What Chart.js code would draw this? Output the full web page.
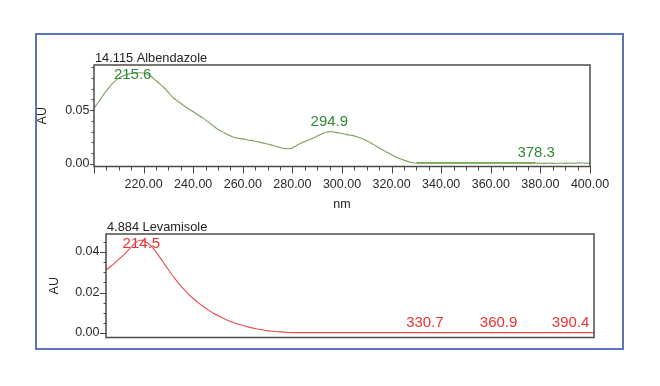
<!DOCTYPE html>
<html><head><meta charset="utf-8">
<script src="https://cdn.jsdelivr.net/npm/chart.js@4/dist/chart.umd.min.js"></script>
<style>
html,body{margin:0;padding:0;background:#fff;width:660px;height:386px;overflow:hidden;}
#frame{position:absolute;left:35px;top:33px;width:585px;height:313px;border:2px solid #5a74bd;}
#c1{position:absolute;left:0;top:0;}
#c2{position:absolute;left:0;top:215px;}
</style></head><body>
<div id="frame"></div>
<canvas id="c1" width="660" height="215"></canvas>
<canvas id="c2" width="660" height="171"></canvas>
<script>
// ---- Albendazole spectrum (nm, AU) ----
const albNm = [200,202,204,206,208,210,212,214,216,218,220,222,224,226,228,230,232,234,236,238,240,242,244,246,248,250,252,254,256,258,260,262,264,266,268,270,272,274,276,278,280,282,284,286,288,290,292,294,295,296,298,300,302,304,306,308,310,312,314,316,318,320,322,324,326,328,330,340,350,360,370,378,380,382,384,386,388,390,392,394,396,398,400];
const albAU = [0.052,0.058,0.065,0.071,0.076,0.080,0.082,0.0835,0.0845,0.0848,0.0845,0.083,0.0795,0.0755,0.0715,0.0665,0.0615,0.058,0.0545,0.0515,0.0485,0.0455,0.0425,0.039,0.0355,0.032,0.0295,0.027,0.025,0.0238,0.0232,0.0222,0.0215,0.0205,0.0195,0.0185,0.0172,0.0158,0.0145,0.014,0.0148,0.0175,0.0198,0.0215,0.0235,0.0258,0.028,0.0297,0.030,0.0298,0.029,0.0282,0.0272,0.0265,0.0252,0.0235,0.0215,0.019,0.0162,0.0135,0.011,0.0085,0.0062,0.0042,0.0025,0.0013,0.0008,0.0008,0.0008,0.0008,0.0008,0.0008,0.0005,0.0004,0.0006,0.0003,0.0007,0.0004,0.0008,0.0005,0.0009,0.0006,0.0004];
const albPeakNm = [215.6, 294.9, 378.3];
const albPeakLabels = ['215.6', '294.9', '378.3'];
const albXTickValues = [220,240,260,280,300,320,340,360,380,400];
const albYTickValues = [0, 0.05];

// ---- Levamisole spectrum (nm, AU) ----
const levNm = [200,202,204,206,208,210,212,214,215,216,218,220,222,224,226,228,230,232,234,236,238,240,242,244,246,248,250,253,256,259,262,265,268,271,275,280,300,330,360,390,400];
const levAU = [0.031,0.033,0.035,0.0372,0.0395,0.042,0.0445,0.0458,0.0458,0.0452,0.0435,0.0408,0.0375,0.034,0.0305,0.0272,0.0242,0.0215,0.019,0.0168,0.0148,0.013,0.0113,0.0098,0.0085,0.0073,0.0062,0.0048,0.0037,0.0028,0.002,0.0014,0.0009,0.0006,0.0003,0.0002,0.0002,0.0002,0.0002,0.0002,0.0002];
const levPeakNm = [214.5, 330.7, 360.9, 390.4];
const levPeakLabels = ['214.5', '330.7', '360.9', '390.4'];
const levYTickValues = [0, 0.02, 0.04];

const FONT = '"Liberation Sans", Arial, Helvetica, sans-serif';

function near(a, b) { return Math.abs(a - b) < 1e-9; }
function auAt(nm, xs, ys) {
  for (let i = 0; i < xs.length - 1; i++) {
    if (nm >= xs[i] && nm <= xs[i + 1]) {
      const t = (nm - xs[i]) / (xs[i + 1] - xs[i]);
      return ys[i] + t * (ys[i + 1] - ys[i]);
    }
  }
  return ys[ys.length - 1];
}

function decor(cfg) {
  return {
    id: 'decor',
    afterDraw(chart) {
      const {ctx, chartArea: a, scales} = chart;
      const y = scales.y, x = scales.x;
      ctx.save();
      ctx.strokeStyle = '#4a4643';
      ctx.lineWidth = 1;
      y.ticks.forEach(t => {
        const v = t.value;
        if (!near(v, Math.round(v / cfg.yStep) * cfg.yStep)) return;
        const major = cfg.yMajor.some(m => near(m, v));
        const py = Math.round(y.getPixelForValue(v)) + 0.5;
        const len = major ? cfg.yMajorLen : cfg.yMinorLen;
        ctx.beginPath(); ctx.moveTo(a.left - len, py); ctx.lineTo(a.left, py); ctx.stroke();
      });
      if (cfg.xMajor) {
        x.ticks.forEach(t => {
          const v = t.value;
          if (!near(v, Math.round(v / cfg.xStep) * cfg.xStep)) return;
          const major = near(v % 20, 0);
          const px = Math.round(x.getPixelForValue(v)) + 0.5;
          const len = major ? 7 : 4;
          ctx.beginPath(); ctx.moveTo(px, a.bottom); ctx.lineTo(px, a.bottom + len); ctx.stroke();
        });
      }
      ctx.lineWidth = 1.5;
      ctx.strokeStyle = '#4f4a46';
      ctx.strokeRect(a.left, a.top, a.right - a.left, a.bottom - a.top);
      ctx.font = '12.8px ' + FONT;
      ctx.fillStyle = '#222';
      ctx.textAlign = 'left';
      ctx.textBaseline = 'alphabetic';
      ctx.fillText(cfg.title, a.left + 1, a.top - 3);
      ctx.font = '15px ' + FONT;
      ctx.fillStyle = cfg.labelColor;
      ctx.textAlign = 'center';
      ctx.textBaseline = 'middle';
      cfg.peakNm.forEach((nm, i) => {
        const px = x.getPixelForValue(nm);
        const py = Math.max(y.getPixelForValue(auAt(nm, cfg.xs, cfg.ys)) - 10, a.top + 10);
        ctx.fillText(cfg.peakLabels[i], px, py);
      });
      ctx.restore();
    }
  };
}

const tickFont = {family: FONT, size: 12.5};

new Chart(document.getElementById('c1'), {
  type: 'line',
  data: {
    datasets: [{
      data: albNm.map((n, i) => ({x: n, y: albAU[i]})),
      borderColor: '#77a05e',
      borderWidth: 1.1,
      pointRadius: 0,
      cubicInterpolationMode: 'monotone',
      segment: {
        borderWidth: c => (c.p0.parsed.x >= 330 && c.p1.parsed.x <= 378) ? 2 : 1.1,
        borderColor: c => (c.p0.parsed.x >= 330 && c.p1.parsed.x <= 378) ? '#7fb060' : '#77a05e'
      }
    }]
  },
  options: {
    responsive: false, animation: false, devicePixelRatio: 1,
    layout: {padding: {left: 0, right: 70, top: 65, bottom: 0}},
    plugins: {legend: {display: false}, tooltip: {enabled: false}},
    scales: {
      x: {
        type: 'linear', min: 200, max: 400,
        grid: {display: false, drawTicks: false}, border: {display: false},
        ticks: {stepSize: 5, includeBounds: false, autoSkip: false, maxRotation: 0, minRotation: 0, padding: 11, color: '#2a2a2a', font: tickFont,
          callback: v => albXTickValues.some(m => near(m, v)) ? Number(v).toFixed(2) : ''},
        title: {display: true, text: 'nm', color: '#222', font: tickFont, padding: {top: 0, bottom: 2.5}},
        afterFit: s => { s.height = 48.5; }
      },
      y: {
        type: 'linear', min: -0.0025, max: 0.092,
        grid: {display: false, drawTicks: false}, border: {display: false},
        ticks: {stepSize: 0.01, includeBounds: false, autoSkip: false, padding: 4.5, color: '#2a2a2a', font: tickFont,
          callback: v => albYTickValues.some(m => near(m, v)) ? Number(v).toFixed(2) : ''},
        title: {display: true, text: 'AU', color: '#222', font: tickFont, padding: {top: 35.5, bottom: 0}},
        afterFit: s => { s.width = 94; }
      }
    }
  },
  plugins: [decor({title: '14.115 Albendazole', labelColor: '#2f8a36', peakNm: albPeakNm, peakLabels: albPeakLabels,
    xs: albNm, ys: albAU, yStep: 0.01, yMajor: albYTickValues, yMajorLen: 4, yMinorLen: 2.5, xMajor: true, xStep: 5})]
});

new Chart(document.getElementById('c2'), {
  type: 'line',
  data: {
    datasets: [{
      data: levNm.map((n, i) => ({x: n, y: levAU[i]})),
      borderColor: '#ec4a4a',
      borderWidth: 1.1,
      pointRadius: 0,
      cubicInterpolationMode: 'monotone'
    }]
  },
  options: {
    responsive: false, animation: false, devicePixelRatio: 1,
    layout: {padding: {left: 0, right: 66, top: 19, bottom: 48.5}},
    plugins: {legend: {display: false}, tooltip: {enabled: false}},
    scales: {
      x: {type: 'linear', min: 200, max: 400, display: false},
      y: {
        type: 'linear', min: -0.0022, max: 0.0489,
        grid: {display: false, drawTicks: false}, border: {display: false},
        ticks: {stepSize: 0.005, includeBounds: false, autoSkip: false, padding: 6.5, color: '#2a2a2a', font: tickFont,
          callback: v => levYTickValues.some(m => near(m, v)) ? Number(v).toFixed(2) : ''},
        title: {display: true, text: 'AU', color: '#222', font: tickFont, padding: {top: 47, bottom: 0}},
        afterFit: s => { s.width = 106; }
      }
    }
  },
  plugins: [decor({title: '4.884 Levamisole', labelColor: '#e8332f', peakNm: levPeakNm, peakLabels: levPeakLabels,
    xs: levNm, ys: levAU, yStep: 0.005, yMajor: levYTickValues, yMajorLen: 6, yMinorLen: 2.5, xMajor: false})]
});
</script>
</body></html>
